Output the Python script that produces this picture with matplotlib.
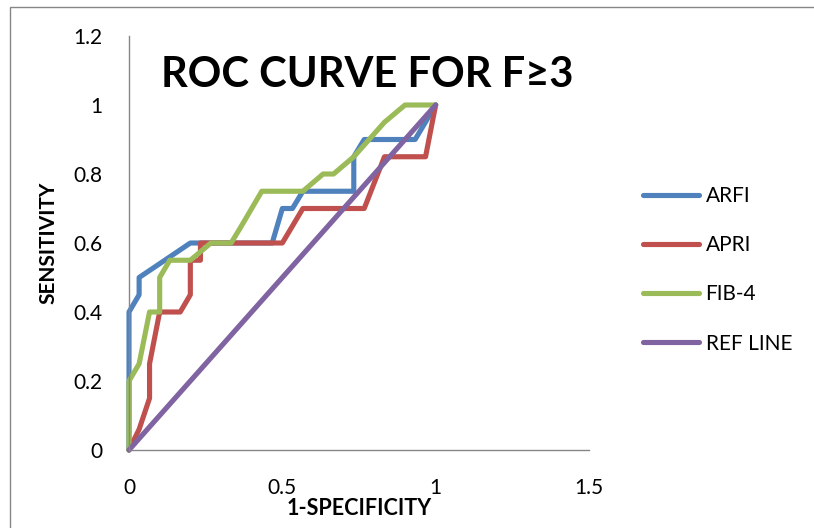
import matplotlib
matplotlib.use("Agg")
import matplotlib.pyplot as plt
from matplotlib.patches import Rectangle

plt.rcParams['font.family'] = ['Lato', 'DejaVu Sans']

# Data
arfi_x = [0, 0, 0.033, 0.033, 0.1, 0.2, 0.467, 0.5, 0.533, 0.567, 0.733, 0.733, 0.767, 0.933, 1]
arfi_y = [0, 0.4, 0.45, 0.5, 0.54, 0.6, 0.6, 0.7, 0.7, 0.75, 0.75, 0.85, 0.9, 0.9, 1]

apri_x = [0, 0.033, 0.067, 0.067, 0.1, 0.167, 0.2, 0.2, 0.233, 0.233, 0.5, 0.567, 0.767, 0.833, 0.967, 1]
apri_y = [0, 0.06, 0.15, 0.25, 0.4, 0.4, 0.45, 0.55, 0.55, 0.6, 0.6, 0.7, 0.7, 0.85, 0.85, 1]

fib4_x = [0, 0, 0.033, 0.067, 0.1, 0.1, 0.133, 0.2, 0.267, 0.333, 0.367, 0.433, 0.567, 0.633, 0.667, 0.733, 0.833, 0.9, 1]
fib4_y = [0, 0.2, 0.25, 0.4, 0.4, 0.5, 0.55, 0.55, 0.6, 0.6, 0.65, 0.75, 0.75, 0.8, 0.8, 0.85, 0.95, 1, 1]

ref_x = [0, 1]
ref_y = [0, 1]

series_names = ["ARFI", "APRI", "FIB-4", "REF LINE"]
colors = ["#4F81BD", "#C0504D", "#9BBB59", "#8064A2"]

x_ticks = [0, 0.5, 1, 1.5]
x_tick_labels = ["0", "0.5", "1", "1.5"]
y_ticks = [0, 0.2, 0.4, 0.6, 0.8, 1, 1.2]
y_tick_labels = ["0", "0.2", "0.4", "0.6", "0.8", "1", "1.2"]

W, H = 814, 528
fig = plt.figure(figsize=(W / 100, H / 100), dpi=100)

# chart border (extends beyond right/bottom edges)
fig.patches.append(Rectangle((10 / W, -0.1), 1.2, 1 - 7 / H + 0.1,
                             transform=fig.transFigure, fill=False,
                             edgecolor="#868686", linewidth=1.0))

ax = fig.add_axes([129 / W, (H - 450) / H, 460 / W, 414 / H])

lw = 3.7
data = [(arfi_x, arfi_y), (apri_x, apri_y), (fib4_x, fib4_y), (ref_x, ref_y)]
for (xs, ys), name, c in zip(data, series_names, colors):
    ax.plot(xs, ys, color=c, linewidth=lw, label=name,
            solid_joinstyle='round', solid_capstyle='round', clip_on=False)

ax.set_xlim(0, 1.5)
ax.set_ylim(0, 1.2)
ax.set_xticks(x_ticks)
ax.set_xticklabels(x_tick_labels)
ax.set_yticks(y_ticks)
ax.set_yticklabels(y_tick_labels)
ax.tick_params(length=0, labelsize=15, colors="black")
ax.tick_params(axis='x', pad=20)
ax.tick_params(axis='y', pad=19)

for s in ['top', 'right']:
    ax.spines[s].set_visible(False)
for s in ['left', 'bottom']:
    ax.spines[s].set_color("#868686")
    ax.spines[s].set_linewidth(1.0)

ax.set_xlabel("1-SPECIFICITY", fontsize=15.5, fontweight='bold', labelpad=0)
ax.set_ylabel("SENSITIVITY", fontsize=15, fontweight='bold', labelpad=11)

fig.text(367 / W, 1 - 75 / H, "ROC CURVE FOR F\u22653", fontsize=30,
         fontweight='bold', ha='center', va='center')

leg = ax.legend(loc='upper left', bbox_to_anchor=(643 / W, 1 - 186 / H),
                bbox_transform=fig.transFigure, frameon=False,
                fontsize=15, handlelength=2.7, handletextpad=0.3,
                labelspacing=1.4, borderaxespad=0, borderpad=0)

fig.savefig("out.png", dpi=100)
